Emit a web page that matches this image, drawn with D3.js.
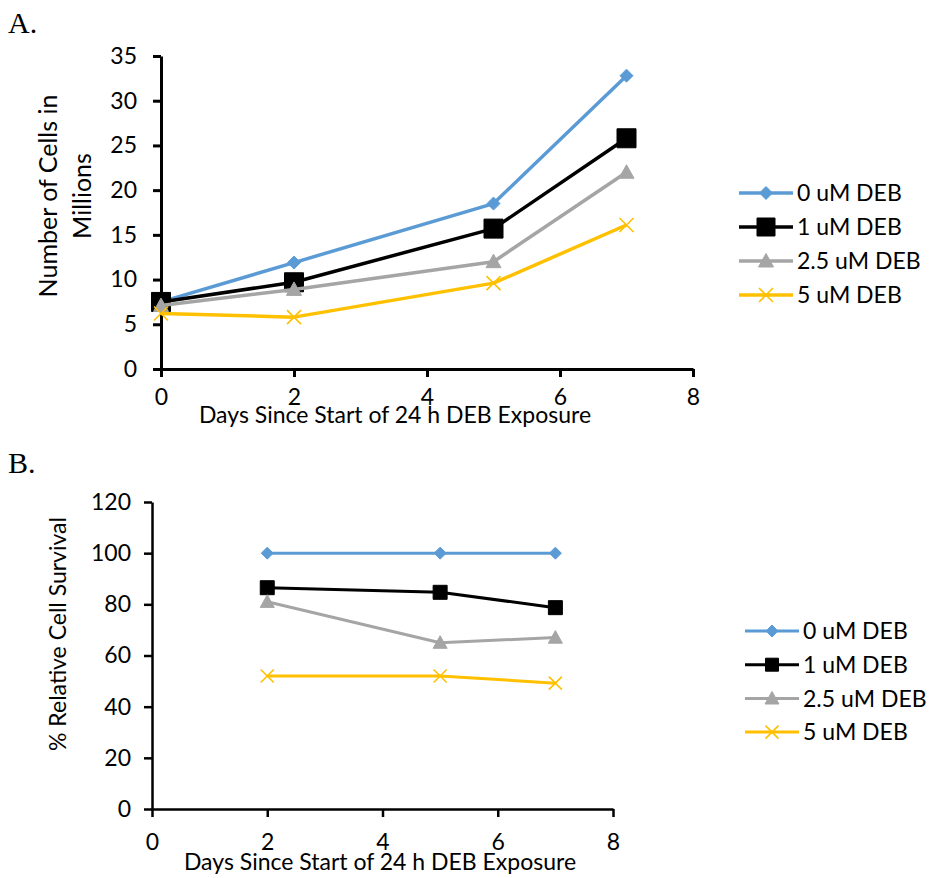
<!DOCTYPE html>
<html>
<head>
<meta charset="utf-8">
<script src="https://cdn.jsdelivr.net/npm/d3@7"></script>
<style>
  body { margin: 0; background: #fff; }
  text { font-family: Lato, 'Open Sans', sans-serif; fill: #000; }
</style>
</head>
<body>
<div id="chart"></div>
<script>
// Data: panel A (cell counts) and panel B (relative survival)
const seriesNames = ['0 uM DEB', '1 uM DEB', '2.5 uM DEB', '5 uM DEB'];
const seriesColors = ['#5B9BD5', '#000000', '#A5A5A5', '#FFC000'];
const seriesShapes = ['diamond', 'square', 'triangle', 'x'];

const daysA = [0, 2, 5, 7];
const cellsDeb0 = [7.5, 11.9, 18.5, 32.8];
const cellsDeb1 = [7.5, 9.7, 15.7, 25.8];
const cellsDeb25 = [7.1, 8.9, 12.0, 22.0];
const cellsDeb5 = [6.2, 5.8, 9.6, 16.1];

const daysB = [2, 5, 7];
const survDeb0 = [100, 100, 100];
const survDeb1 = [86.5, 84.7, 78.7];
const survDeb25 = [81, 65, 67];
const survDeb5 = [52, 52, 49.2];

const xTicks = [0, 2, 4, 6, 8];
const yTicksA = [0, 5, 10, 15, 20, 25, 30, 35];
const yTicksB = [0, 20, 40, 60, 80, 100, 120];

const svg = d3.select('#chart')
    .append('svg')
    .attr('width', 932)
    .attr('height', 878);

// Excel-like marker shapes, r = half width
const markerPath = (shape, r) => {
    const p = d3.path();
    if (shape === 'diamond') {
        p.moveTo(0, -r); p.lineTo(r, 0); p.lineTo(0, r); p.lineTo(-r, 0); p.closePath();
    } else if (shape === 'square') {
        p.rect(-r, -r, 2 * r, 2 * r);
    } else if (shape === 'triangle') {
        p.moveTo(0, -r); p.lineTo(r, r * 0.8); p.lineTo(-r, r * 0.8); p.closePath();
    } else {
        p.moveTo(-r, -r); p.lineTo(r, r); p.moveTo(r, -r); p.lineTo(-r, r);
    }
    return p.toString();
};

const drawMarker = (g, shape, color, r) => {
    g.append('path')
        .attr('d', markerPath(shape, r))
        .attr('fill', shape === 'x' ? 'none' : color)
        .attr('stroke', color)
        .attr('stroke-width', shape === 'x' ? 1.6 : 1);
};

const drawPanel = cfg => {
    const g = svg.append('g');
    const x = d3.scaleLinear().domain([0, 8]).range(cfg.xRange);
    const y = d3.scaleLinear().domain(cfg.yDomain).range(cfg.yRange);

    // Axes
    const yAxis = g.append('g')
        .attr('transform', `translate(${cfg.xRange[0]},0)`)
        .call(d3.axisLeft(y).tickValues(cfg.yTicks).tickSize(8).tickPadding(cfg.yPad).tickSizeOuter(0));
    const xAxis = g.append('g')
        .attr('transform', `translate(0,${cfg.yRange[0]})`)
        .call(d3.axisBottom(x).tickValues(xTicks).tickSize(8).tickPadding(cfg.xPad).tickSizeOuter(0));
    [yAxis, xAxis].forEach(a => {
        a.select('.domain').attr('stroke', '#000').attr('stroke-width', cfg.axisWidth);
        a.selectAll('.tick line').attr('stroke', '#000').attr('stroke-width', cfg.axisWidth);
        a.selectAll('.tick text').style('font-size', '23px').style('font-family', 'Lato');
    });

    // Lines and markers
    const line = d3.line().x(d => x(d[0])).y(d => y(d[1]));
    cfg.series.forEach((vals, i) => {
        const pts = cfg.days.map((d, j) => [d, vals[j]]);
        g.append('path')
            .datum(pts)
            .attr('d', line)
            .attr('fill', 'none')
            .attr('stroke', seriesColors[i])
            .attr('stroke-width', cfg.lineWidth)
            .attr('stroke-linejoin', 'round');
        pts.forEach(p => {
            const m = g.append('g').attr('transform', `translate(${x(p[0])},${y(p[1])})`);
            drawMarker(m, seriesShapes[i], seriesColors[i], cfg.markerR[i]);
        });
    });

    // Legend
    const leg = g.append('g');
    seriesNames.forEach((name, i) => {
        const ly = cfg.legendY + i * cfg.legendGap;
        leg.append('line')
            .attr('x1', cfg.legendX).attr('x2', cfg.legendX + 54)
            .attr('y1', ly).attr('y2', ly)
            .attr('stroke', seriesColors[i])
            .attr('stroke-width', cfg.lineWidth);
        const m = leg.append('g').attr('transform', `translate(${cfg.legendX + 27},${ly})`);
        drawMarker(m, seriesShapes[i], seriesColors[i], cfg.legendR[i]);
        leg.append('text')
            .attr('x', cfg.legendX + 58)
            .attr('y', ly)
            .attr('dy', '0.36em')
            .style('font-size', '23px')
            .text(name);
    });

    // Titles
    g.append('text')
        .attr('x', cfg.xTitleX)
        .attr('y', cfg.xTitleY)
        .attr('text-anchor', 'middle')
        .style('font-size', '23px')
        .text('Days Since Start of 24 h DEB Exposure');

    cfg.yTitle.forEach((t, k) => {
        g.append('text')
            .attr('transform', `translate(${cfg.yTitleX[k]},${cfg.yTitleY}) rotate(-90)`)
            .attr('text-anchor', 'middle')
            .attr('dy', '0.36em')
            .style('font-size', cfg.yTitleSize)
            .text(t);
    });

    g.append('text')
        .attr('x', 8)
        .attr('y', cfg.labelY)
        .style('font-family', "'Liberation Serif', 'Times New Roman', serif")
        .style('font-size', '30px')
        .text(cfg.label);
};

drawPanel({
    label: 'A.', labelY: 33,
    xRange: [161, 693], yRange: [369, 56], yDomain: [0, 35], yTicks: yTicksA,
    yPad: 16, xPad: 12, axisWidth: 3, lineWidth: 3.5,
    days: daysA, series: [cellsDeb0, cellsDeb1, cellsDeb25, cellsDeb5],
    markerR: [6.5, 9.5, 7.5, 7], legendR: [6.5, 9, 7.5, 7],
    legendX: 739, legendY: 193, legendGap: 34,
    xTitleX: 395, xTitleY: 423,
    yTitle: ['Number of Cells in', 'Millions'], yTitleX: [48, 82], yTitleY: 196, yTitleSize: '25px'
});

drawPanel({
    label: 'B.', labelY: 473,
    xRange: [152, 613], yRange: [809, 502], yDomain: [0, 120], yTicks: yTicksB,
    yPad: 13, xPad: 17, axisWidth: 2.5, lineWidth: 3,
    days: daysB, series: [survDeb0, survDeb1, survDeb25, survDeb5],
    markerR: [6, 7, 7, 6.5], legendR: [6, 6.5, 7, 6.5],
    legendX: 745, legendY: 631, legendGap: 33.7,
    xTitleX: 380, xTitleY: 870,
    yTitle: ['% Relative Cell Survival'], yTitleX: [58], yTitleY: 634, yTitleSize: '23px'
});
</script>
</body>
</html>
